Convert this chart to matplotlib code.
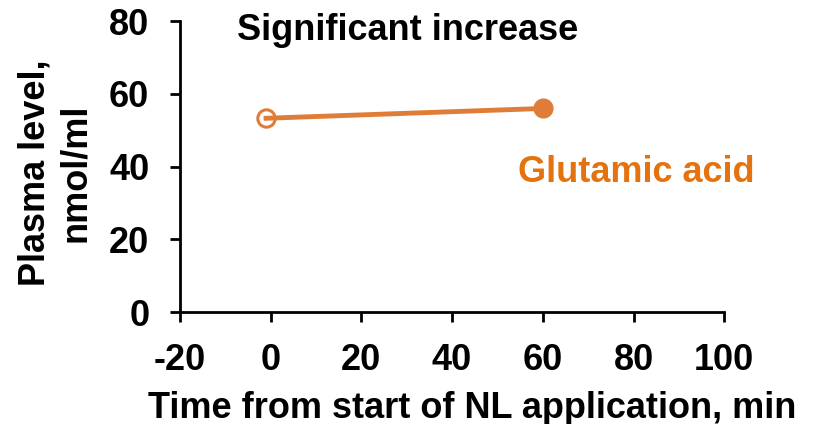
import matplotlib.pyplot as plt

plt.rcParams['font.family'] = 'Liberation Sans'
plt.rcParams['font.weight'] = 'bold'
plt.rcParams['axes.unicode_minus'] = False

# time from start of NL application (min) and plasma glutamic acid level (nmol/ml)
time_min = [-1, 60]
glutamic_acid = [53.3, 56.0]
x_ticks = [-20, 0, 20, 40, 60, 80, 100]
y_ticks = [0, 20, 40, 60, 80]

line_orange = '#DF7D38'
text_orange = '#E3720F'
fs = 26

fig = plt.figure(figsize=(8.25, 4.24), dpi=100)
ax = fig.add_axes([0.218, 0.264, 0.66, 0.686])

ax.plot(time_min, glutamic_acid, color=line_orange, linewidth=3.5, zorder=2)
# baseline point drawn hollow, 60 min point filled
ax.plot(time_min[0], glutamic_acid[0], 'o', markersize=12.5, markerfacecolor='none',
        markeredgecolor=line_orange, markeredgewidth=2.2, zorder=3)
ax.plot(time_min[1], glutamic_acid[1], 'o', markersize=14.5, color=line_orange,
        markeredgewidth=0, zorder=3)

ax.set_xlim(-20, 100)
ax.set_ylim(0, 80)
ax.set_xticks(x_ticks)
ax.set_yticks(y_ticks)
for s in ['top', 'right']:
    ax.spines[s].set_visible(False)
for s in ['left', 'bottom']:
    ax.spines[s].set_linewidth(2)
ax.tick_params(width=2, length=7, labelsize=fs)
ax.tick_params(axis='x', pad=15)
ax.tick_params(axis='y', pad=15)

ax.set_xlabel('Time from start of NL application, min', fontsize=fs, fontweight='bold')
ax.xaxis.set_label_coords(0.537, -0.27)
ax.set_ylabel('Plasma level,\nnmol/ml', fontsize=fs, fontweight='bold', linespacing=1.2)
ax.yaxis.set_label_coords(-0.16, 0.48)

ax.text(30.3, 77.5, 'Significant increase', fontsize=fs, fontweight='bold', ha='center', va='center')
ax.text(80.6, 38.4, 'Glutamic acid', fontsize=fs, fontweight='bold', color=text_orange,
        ha='center', va='center')

fig.savefig('out.png', dpi=100)
